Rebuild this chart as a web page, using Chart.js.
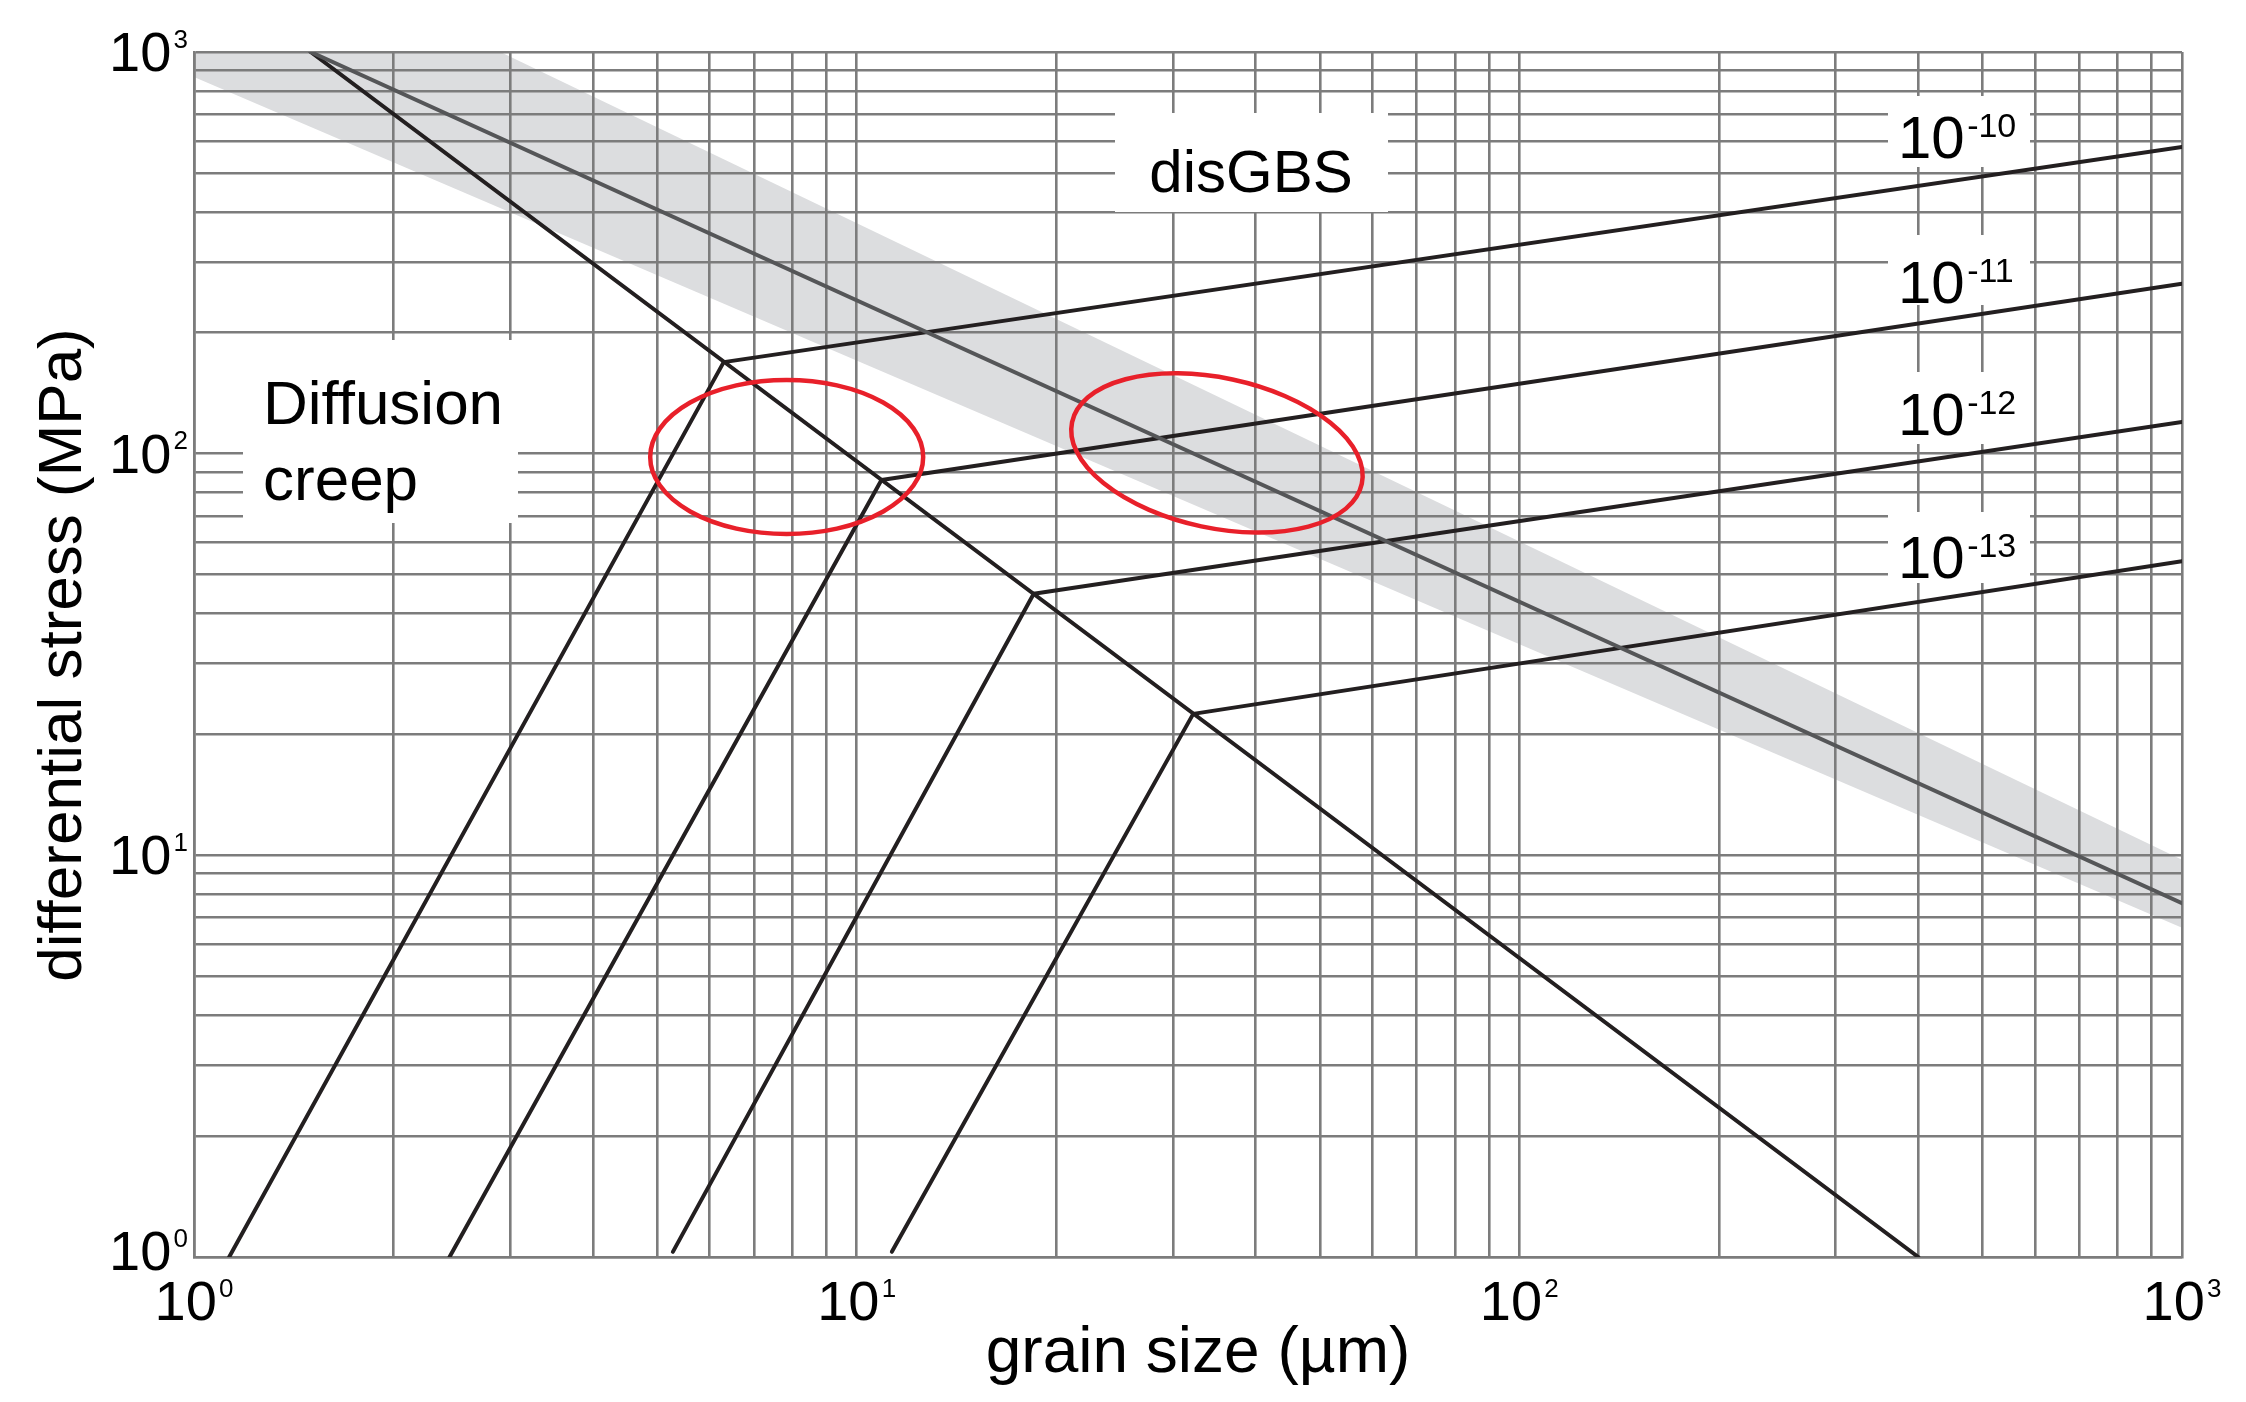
<!DOCTYPE html>
<html>
<head>
<meta charset="utf-8">
<script src="https://cdn.jsdelivr.net/npm/chart.js@4.4.1/dist/chart.umd.min.js"></script>
<style>
  html, body { margin: 0; padding: 0; background: #fff; }
  #wrap { width: 2246px; height: 1402px; }
</style>
</head>
<body>
<div id="wrap"><canvas id="myChart" width="2246" height="1402"></canvas></div>
<script>
// grid lines and decade labels
var gridTicks = [1, 2, 3, 4, 5, 6, 7, 8, 9, 10, 20, 30, 40, 50, 60, 70, 80, 90,
                 100, 200, 300, 400, 500, 600, 700, 800, 900, 1000];
var decadeTicks = [1, 10, 100, 1000];
var decadeExps = ['0', '1', '2', '3'];

// grey piezometer band (grain size um, stress MPa)
var bandTopD = [1, 2.9, 1000];
var bandTopS = [1000, 1000, 9.75];
var bandBotD = [1, 1000];
var bandBotS = [866, 6.6];
var piezoD = [1.5, 1000];
var piezoS = [1000, 7.6];

// diffusion / dislocation field boundary
var boundaryD = [1.5, 400];
var boundaryS = [1000, 1];

// strain rate contours (1/s)
var rateExps = ['-10', '-11', '-12', '-13'];
var kinkD = [6.3, 10.9, 18.5, 32.2];
var kinkS = [169, 86, 44.8, 22.5];
var dislEndD = [1000, 1000, 1000, 1000];
var dislEndS = [580, 265, 120, 54];
var diffEndD = [1.13, 2.43, 5.28, 11.3];
var diffEndS = [1, 1, 1.03, 1.03];

// red rings: grain size range, stress range, tilt in degrees
var ringD = [[4.88, 12.6], [20.9, 58.5]];
var ringS = [[63.1, 152.6], [65.3, 154.4]];
var ringTilt = [0, 12];

var FONT = '"Liberation Sans", Arial, sans-serif';
var GRID = '#7c7c7c';
var INK = '#231f20';

function pts(xs, ys) {
    return xs.map(function (x, i) { return { x: x, y: ys[i] }; });
}

function line(data, color, width, extra) {
    var ds = {
        data: data,
        showLine: true,
        borderColor: color,
        borderWidth: width,
        pointRadius: 0,
        pointHoverRadius: 0,
        fill: false
    };
    for (var k in extra) ds[k] = extra[k];
    return ds;
}

var datasets = [
    line(pts(bandTopD, bandTopS), 'rgba(0,0,0,0)', 0, { fill: '+1', backgroundColor: '#dcdddf' }),
    line(pts(bandBotD, bandBotS), 'rgba(0,0,0,0)', 0),
    line(pts(piezoD, piezoS), '#555658', 4),
    line(pts(boundaryD, boundaryS), INK, 4)
];
for (var i = 0; i < kinkD.length; i++) {
    datasets.push(line([{ x: kinkD[i], y: kinkS[i] }, { x: dislEndD[i], y: dislEndS[i] }], INK, 4));
    datasets.push(line([{ x: diffEndD[i], y: diffEndS[i] }, { x: kinkD[i], y: kinkS[i] }], INK, 4));
}

// 10 with a raised exponent
function powText(ctx, exp, x, y, size, supSize, align) {
    ctx.font = size + 'px ' + FONT;
    var wb = ctx.measureText('10').width;
    ctx.font = supSize + 'px ' + FONT;
    var we = ctx.measureText(exp).width;
    var gap = size * 0.04;
    var total = wb + gap + we;
    var sx = align === 'center' ? x - total / 2 : (align === 'right' ? x - total : x);
    ctx.textAlign = 'left';
    ctx.textBaseline = 'alphabetic';
    ctx.fillStyle = '#000';
    ctx.font = size + 'px ' + FONT;
    ctx.fillText('10', sx, y);
    ctx.font = supSize + 'px ' + FONT;
    ctx.fillText(exp, sx + wb + gap, y - 0.716 * size + 0.716 * supSize - 2);
}

var rateBoxes = [[96, 167], [235, 305], [372, 444], [512, 583]];
var rateBase = [158, 303, 435, 578];

var notes = {
    id: 'notes',
    beforeDatasetsDraw: function (chart) {
        var ctx = chart.ctx;
        ctx.save();
        ctx.fillStyle = '#fff';
        ctx.fillRect(1115, 113, 273, 99);   // disGBS
        ctx.fillRect(243, 340, 275, 183);   // Diffusion creep
        rateBoxes.forEach(function (b) {
            ctx.fillRect(1888, b[0], 142, b[1] - b[0]);
        });
        ctx.restore();
    },
    afterDatasetsDraw: function (chart) {
        var ctx = chart.ctx;
        var xs = chart.scales.x, ys = chart.scales.y;
        ctx.save();
        ctx.strokeStyle = '#e8202a';
        ctx.lineWidth = 4.5;
        ringD.forEach(function (r, i) {
            var x0 = xs.getPixelForValue(r[0]), x1 = xs.getPixelForValue(r[1]);
            var y0 = ys.getPixelForValue(ringS[i][0]), y1 = ys.getPixelForValue(ringS[i][1]);
            ctx.beginPath();
            ctx.ellipse((x0 + x1) / 2, (y0 + y1) / 2, Math.abs(x1 - x0) / 2, Math.abs(y1 - y0) / 2,
                ringTilt[i] * Math.PI / 180, 0, 2 * Math.PI);
            ctx.stroke();
        });
        ctx.restore();
    },
    afterDraw: function (chart) {
        var ctx = chart.ctx;
        var xs = chart.scales.x, ys = chart.scales.y;
        var area = chart.chartArea;
        ctx.save();

        // tick labels
        decadeTicks.forEach(function (v, i) {
            var dy = v === 1 ? 13 : 19;
            powText(ctx, decadeExps[i], area.left - 6, ys.getPixelForValue(v) + dy, 56, 26, 'right');
            powText(ctx, decadeExps[i], xs.getPixelForValue(v), area.bottom + 63, 56, 26, 'center');
        });

        // strain rate labels
        rateExps.forEach(function (e, i) {
            powText(ctx, e, 1898, rateBase[i], 60, 34, 'left');
        });

        ctx.fillStyle = '#000';
        ctx.textBaseline = 'alphabetic';
        ctx.font = '60px ' + FONT;
        ctx.textAlign = 'center';
        ctx.fillText('disGBS', 1251, 192);
        ctx.textAlign = 'left';
        ctx.font = '62px ' + FONT;
        ctx.fillText('Diffusion', 263, 424);
        ctx.fillText('creep', 263, 500);

        // axis titles
        ctx.font = '64px ' + FONT;
        ctx.textAlign = 'center';
        ctx.fillText('grain size (\u00b5m)', 1198, 1372);
        ctx.translate(81, 655);
        ctx.rotate(-Math.PI / 2);
        ctx.font = '62px ' + FONT;
        ctx.fillText('differential stress (MPa)', 0, 0);
        ctx.restore();
    }
};

function setGrid(scale) {
    scale.ticks = gridTicks.map(function (v) { return { value: v }; });
}

var myChart = new Chart(document.getElementById('myChart').getContext('2d'), {
    type: 'scatter',
    data: { datasets: datasets },
    options: {
        responsive: false,
        animation: false,
        devicePixelRatio: 1,
        layout: { padding: { left: 194, top: 52, right: 64, bottom: 145 } },
        plugins: {
            legend: { display: false },
            tooltip: { enabled: false },
            filler: { drawTime: 'beforeDraw' }
        },
        elements: { line: { tension: 0, borderCapStyle: 'round', borderJoinStyle: 'round' } },
        scales: {
            x: {
                type: 'logarithmic',
                min: 1,
                max: 1000,
                afterBuildTicks: setGrid,
                ticks: { display: false },
                grid: { color: GRID, lineWidth: 2.6, drawTicks: false },
                border: { color: GRID, width: 2.6 }
            },
            y: {
                type: 'logarithmic',
                min: 1,
                max: 1000,
                afterBuildTicks: setGrid,
                ticks: { display: false },
                grid: { color: GRID, lineWidth: 2.6, drawTicks: false },
                border: { color: GRID, width: 2.6 }
            }
        }
    },
    plugins: [notes]
});
</script>
</body>
</html>
